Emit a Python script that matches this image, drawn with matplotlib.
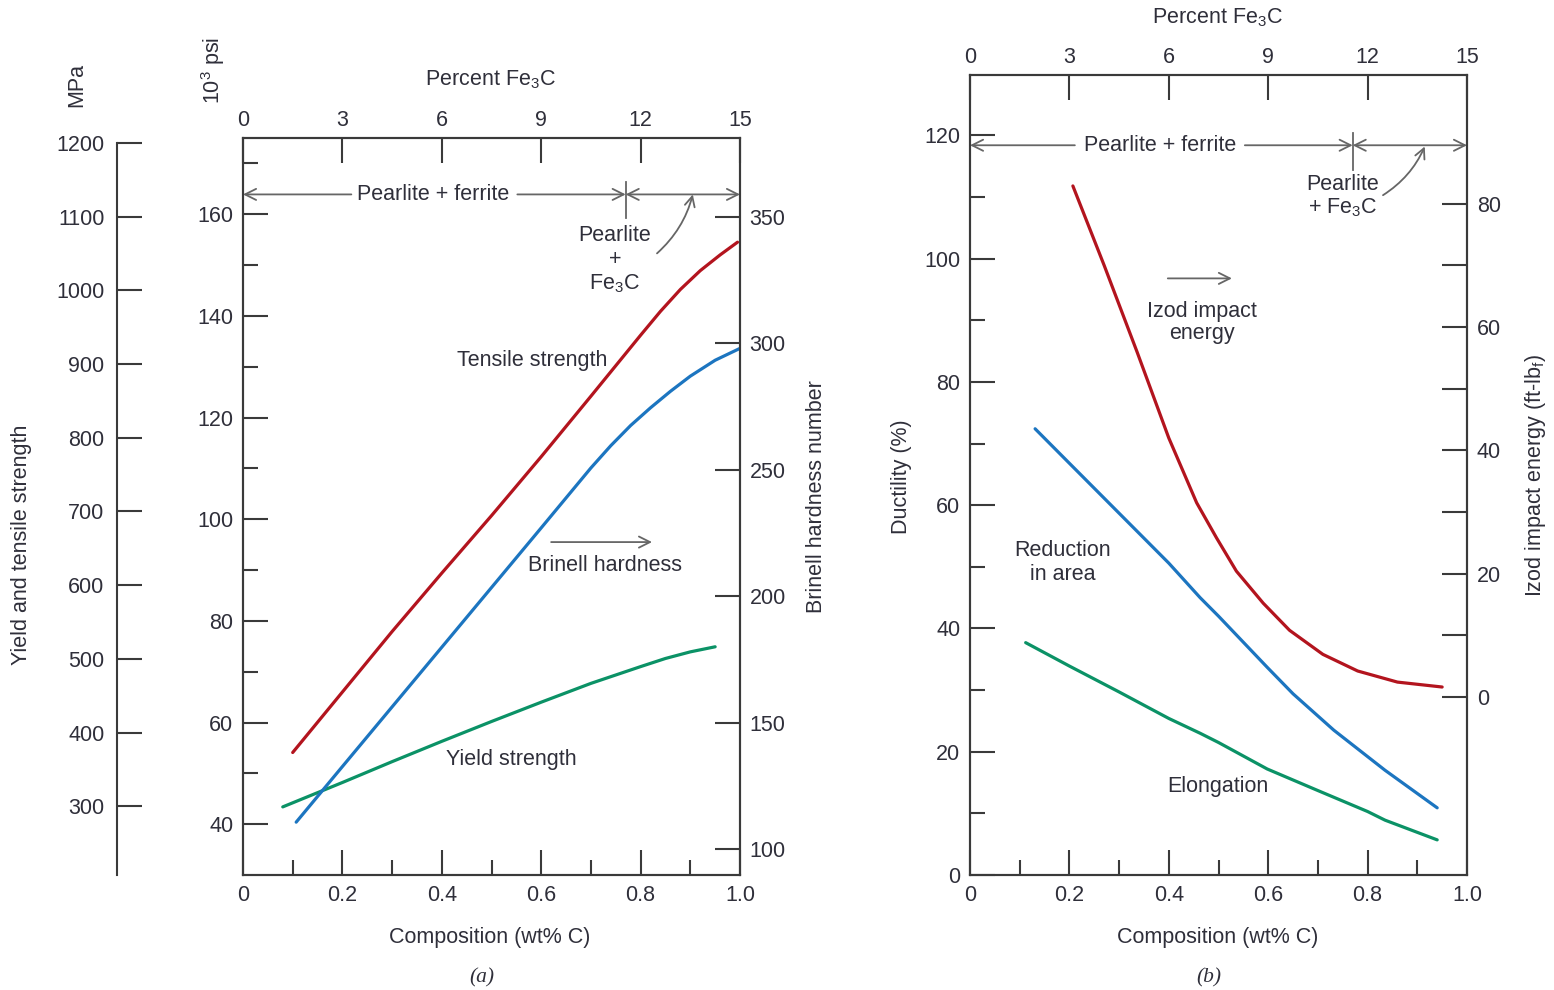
import matplotlib
matplotlib.use("Agg")
import matplotlib.pyplot as plt

plt.rcParams['font.family'] = ['Liberation Sans', 'DejaVu Sans']
plt.rcParams['mathtext.fontset'] = 'custom'
plt.rcParams['mathtext.rm'] = 'Liberation Sans'
plt.rcParams['mathtext.it'] = 'Liberation Sans:italic'
plt.rcParams['mathtext.default'] = 'regular'

# =========================
# Data
# =========================
# (a) strength and hardness vs. carbon content
tensile_c = [0.10, 0.20, 0.30, 0.40, 0.50, 0.60, 0.70, 0.80, 0.84, 0.88, 0.92, 0.96, 0.995]
tensile_ksi = [54.1, 66.0, 77.9, 89.4, 100.7, 112.3, 124.2, 136.2, 140.9, 145.2, 148.9, 152.0, 154.5]

brinell_c = [0.107, 0.20, 0.30, 0.40, 0.50, 0.60, 0.70, 0.74, 0.78, 0.82, 0.86, 0.90, 0.95, 1.0]
brinell_hb = [110.6, 132.6, 156.2, 179.8, 203.4, 227.0, 250.7, 259.5, 267.5, 274.5, 281.0, 287.0, 293.3, 298.0]

yield_c = [0.08, 0.20, 0.30, 0.40, 0.50, 0.60, 0.70, 0.80, 0.85, 0.90, 0.95]
yield_ksi = [43.4, 48.2, 52.3, 56.3, 60.2, 64.0, 67.7, 71.0, 72.6, 73.9, 74.9]

# (b) ductility and impact energy vs. carbon content
izod_c = [0.207, 0.27, 0.336, 0.40, 0.456, 0.496, 0.536, 0.59, 0.643, 0.71, 0.78, 0.86, 0.95]
izod_ftlb = [82.9, 70.0, 56.0, 42.0, 31.5, 25.8, 20.4, 15.2, 10.8, 6.9, 4.2, 2.4, 1.6]

ra_c = [0.131, 0.20, 0.30, 0.40, 0.463, 0.50, 0.598, 0.65, 0.732, 0.835, 0.94]
ra_pct = [72.4, 66.8, 58.7, 50.6, 45.0, 42.0, 33.7, 29.4, 23.5, 17.0, 10.9]

elong_c = [0.112, 0.20, 0.30, 0.40, 0.463, 0.50, 0.598, 0.70, 0.80, 0.835, 0.94]
elong_pct = [37.7, 33.9, 29.7, 25.4, 23.0, 21.5, 17.2, 13.7, 10.3, 8.9, 5.7]

EUTECTOID = 0.77          # wt% C
KSI_TO_MPA = 6.895
FE3C_PER_WT = 15          # top scale: percent Fe3C

x_ticks = [0, 0.2, 0.4, 0.6, 0.8, 1.0]
x_labels = ["0", "0.2", "0.4", "0.6", "0.8", "1.0"]
fe3c_ticks = [0, 3, 6, 9, 12, 15]

# =========================
# Style
# =========================
RED = "#B3141E"
BLUE = "#1C75C0"
GREEN = "#0B9266"
INK = "#2f2f3a"
SPINE = "#3a3a3a"
ARROW = "#666666"
FS = 15.5
LW = 2.3
MAJ = 18
MIN = 10.5

W, H = 1554, 990
fig = plt.figure(figsize=(W / 100, H / 100), dpi=100)


def box(left, top, right, bottom):
    return [left / W, 1 - bottom / H, (right - left) / W, (bottom - top) / H]


def style_axis(ax):
    for s in ax.spines.values():
        s.set_color(SPINE)
        s.set_linewidth(1.5)
    ax.tick_params(which='both', direction='in', colors=SPINE, width=1.5,
                   labelcolor=INK, labelsize=FS, pad=7)
    ax.tick_params(which='major', length=MAJ)
    ax.tick_params(which='minor', length=MIN)


def phase_bar(ax, y, text_left, text_right, tick_lo, tick_hi, text_x):
    ap = dict(arrowstyle='->', color=ARROW, lw=1.3, shrinkA=0, shrinkB=0, mutation_scale=20)
    ax.annotate('', xy=(0, y), xytext=(text_left, y), arrowprops=ap)
    ax.annotate('', xy=(EUTECTOID, y), xytext=(text_right, y), arrowprops=ap)
    ax.annotate('', xy=(1.0, y), xytext=(EUTECTOID, y),
                arrowprops=dict(ap, arrowstyle='<->'))
    ax.plot([EUTECTOID, EUTECTOID], [tick_lo, tick_hi], color=ARROW, lw=1.3)
    ax.text(text_x, y, "Pearlite + ferrite", ha='center', va='center', fontsize=FS, color=INK)


def fe3c_axis(ax):
    sec = ax.secondary_xaxis('top', functions=(lambda x: x * FE3C_PER_WT,
                                               lambda p: p / FE3C_PER_WT))
    sec.set_xticks(fe3c_ticks)
    sec.spines['top'].set_visible(False)
    sec.tick_params(direction='in', length=MAJ, width=1.5, colors=SPINE,
                    labelcolor=INK, labelsize=FS, pad=5)
    return sec


# =========================
# (a)
# =========================
axa = fig.add_axes(box(243, 138, 740, 875))
style_axis(axa)
axa.set_xlim(0, 1)
axa.set_ylim(30, 175)
axa.set_xticks(x_ticks)
axa.set_xticklabels(x_labels)
axa.set_xticks([0.1, 0.3, 0.5, 0.7, 0.9], minor=True)
axa.set_yticks(range(40, 161, 20))
axa.set_yticks(range(50, 171, 20), minor=True)

axa.plot(tensile_c, tensile_ksi, color=RED, lw=LW, solid_capstyle='round')
axa.plot(yield_c, yield_ksi, color=GREEN, lw=LW, solid_capstyle='round')

axa_r = axa.twinx()
style_axis(axa_r)
axa_r.set_ylim(89.7, 381.2)
axa_r.set_yticks(range(100, 351, 50))
axa_r.plot(brinell_c, brinell_hb, color=BLUE, lw=LW, solid_capstyle='round')

fe3c_axis(axa)

# MPa scale on the far left
axm = fig.add_axes(box(117, 138, 118, 875))
axm.patch.set_visible(False)
for k in ['top', 'right', 'bottom']:
    axm.spines[k].set_visible(False)
style_axis(axm)
axm.set_ylim(30 * KSI_TO_MPA, 175 * KSI_TO_MPA)
axm.spines['left'].set_bounds(30 * KSI_TO_MPA, 1200)
axm.set_yticks(range(300, 1201, 100))
axm.set_xticks([])
axm.tick_params(pad=9)

phase_bar(axa, 163.9, 0.218, 0.552, 159.2, 166.3, 0.383)
axa.annotate('', xy=(0.905, 163.9), xytext=(0.833, 152.3),
             arrowprops=dict(arrowstyle='->', color=ARROW, lw=1.3, shrinkA=0, shrinkB=0,
                             mutation_scale=18, connectionstyle='arc3,rad=0.15'))
axa.text(0.748, 155.9, "Pearlite", ha='center', va='center', fontsize=FS, color=INK)
axa.text(0.748, 151.1, "+", ha='center', va='center', fontsize=FS, color=INK)
axa.text(0.748, 146.4, "Fe$_3$C", ha='center', va='center', fontsize=FS, color=INK)

axa.text(0.582, 131.3, "Tensile strength", ha='center', va='center', fontsize=FS, color=INK)
axa.annotate('', xy=(0.823, 95.5), xytext=(0.62, 95.5),
             arrowprops=dict(arrowstyle='->', color=ARROW, lw=1.3, shrinkA=0, shrinkB=0,
                             mutation_scale=20))
axa.text(0.728, 90.8, "Brinell hardness", ha='center', va='center', fontsize=FS, color=INK)
axa.text(0.539, 52.8, "Yield strength", ha='center', va='center', fontsize=FS, color=INK)

# =========================
# (b)
# =========================
axb = fig.add_axes(box(970, 75, 1467, 875))
style_axis(axb)
axb.set_xlim(0, 1)
axb.set_ylim(0, 129.8)
axb.set_xticks(x_ticks)
axb.set_xticklabels(x_labels)
axb.set_xticks([0.1, 0.3, 0.5, 0.7, 0.9], minor=True)
axb.set_yticks(range(0, 121, 20))
axb.set_yticks(range(10, 111, 20), minor=True)
axb.plot(ra_c, ra_pct, color=BLUE, lw=LW, solid_capstyle='round')
axb.plot(elong_c, elong_pct, color=GREEN, lw=LW, solid_capstyle='round')

axb_r = axb.twinx()
style_axis(axb_r)
axb_r.set_ylim(-28.9, 100.9)
axb_r.set_yticks(range(0, 81, 20))
axb_r.set_yticks(range(10, 71, 20), minor=True)
axb_r.tick_params(which='minor', length=MAJ)
axb_r.plot(izod_c, izod_ftlb, color=RED, lw=LW, solid_capstyle='round')

fe3c_axis(axb)

phase_bar(axb, 118.4, 0.211, 0.553, 114.4, 120.4, 0.382)
axb.annotate('', xy=(0.915, 118.2), xytext=(0.831, 110.3),
             arrowprops=dict(arrowstyle='->', color=ARROW, lw=1.3, shrinkA=0, shrinkB=0,
                             mutation_scale=18, connectionstyle='arc3,rad=0.15'))
axb.text(0.75, 112.1, "Pearlite", ha='center', va='center', fontsize=FS, color=INK)
axb.text(0.75, 108.2, "+ Fe$_3$C", ha='center', va='center', fontsize=FS, color=INK)

axb.annotate('', xy=(0.527, 96.8), xytext=(0.398, 96.8),
             arrowprops=dict(arrowstyle='->', color=ARROW, lw=1.3, shrinkA=0, shrinkB=0,
                             mutation_scale=20))
axb.text(0.467, 91.5, "Izod impact", ha='center', va='center', fontsize=FS, color=INK)
axb.text(0.467, 87.8, "energy", ha='center', va='center', fontsize=FS, color=INK)
axb.text(0.187, 52.6, "Reduction", ha='center', va='center', fontsize=FS, color=INK)
axb.text(0.187, 48.8, "in area", ha='center', va='center', fontsize=FS, color=INK)
axb.text(0.499, 14.3, "Elongation", ha='center', va='center', fontsize=FS, color=INK)

# =========================
# Axis titles
# =========================
def ftext(x, y, s, **kw):
    kw.setdefault('fontsize', FS)
    kw.setdefault('color', INK)
    fig.text(x / W, 1 - y / H, s, ha='center', va='center', **kw)


ftext(491, 80, "Percent Fe$_3$C")
ftext(1218, 18, "Percent Fe$_3$C")
ftext(213, 70, "10$^3$ psi", rotation=90)
ftext(77, 85, "MPa", rotation=90)
ftext(22, 545, "Yield and tensile strength", rotation=90)
ftext(817, 497, "Brinell hardness number", rotation=90)
ftext(902, 477, "Ductility (%)", rotation=90)
ftext(1535, 475, "Izod impact energy (ft-lb$_f$)", rotation=90)
ftext(490, 938, "Composition (wt% C)")
ftext(1218, 938, "Composition (wt% C)")
ftext(482, 978, "(a)", family='Liberation Serif', style='italic')
ftext(1209, 978, "(b)", family='Liberation Serif', style='italic')

fig.savefig("out.png", dpi=100)
